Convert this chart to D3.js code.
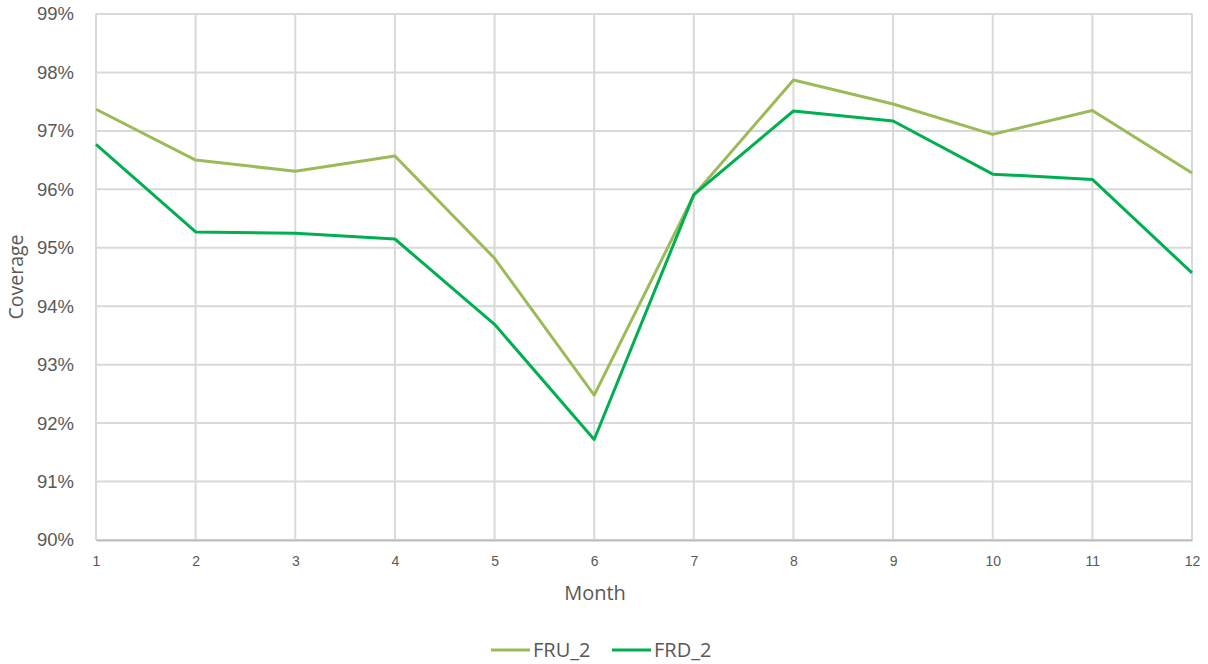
<!DOCTYPE html>
<html>
<head>
<meta charset="utf-8">
<script src="https://cdn.jsdelivr.net/npm/d3@7/dist/d3.min.js"></script>
<style>
  html, body { margin: 0; padding: 0; background: #fff; }
  svg { display: block; font-family: "Open Sans", "Liberation Sans", sans-serif; }
</style>
</head>
<body>
<svg id="chart" width="1208" height="664"></svg>
<script>
// Monthly coverage for two series
const months = [1, 2, 3, 4, 5, 6, 7, 8, 9, 10, 11, 12];
const fru2 = [97.37, 96.50, 96.31, 96.57, 94.82, 92.48, 95.90, 97.87, 97.46, 96.94, 97.35, 96.28];
const frd2 = [96.77, 95.27, 95.25, 95.15, 93.69, 91.72, 95.91, 97.34, 97.17, 96.26, 96.17, 94.57];
const yTicks = [90, 91, 92, 93, 94, 95, 96, 97, 98, 99];
const seriesNames = ["FRU_2", "FRD_2"];
const seriesColors = ["#9BBB59", "#00B050"];

const svg = d3.select("#chart");
const plotLeft = 96, plotRight = 1192, plotTop = 14, plotBottom = 540;

const x = d3.scaleLinear().domain([1, 12]).range([plotLeft, plotRight]);
const y = d3.scaleLinear().domain([90, 99]).range([plotBottom, plotTop]);

const textColor = "#595959";
const gridColor = "#D9D9D9";

// Horizontal gridlines
svg.append("g")
  .selectAll("line")
  .data(yTicks)
  .join("line")
  .attr("x1", plotLeft).attr("x2", plotRight)
  .attr("y1", d => y(d)).attr("y2", d => y(d))
  .attr("stroke", gridColor).attr("stroke-width", 2);

// Vertical gridlines
svg.append("g")
  .selectAll("line")
  .data(months)
  .join("line")
  .attr("x1", d => x(d)).attr("x2", d => x(d))
  .attr("y1", plotTop).attr("y2", plotBottom)
  .attr("stroke", gridColor).attr("stroke-width", 2);

// Y axis
const yAxis = d3.axisLeft(y).tickValues(yTicks).tickFormat(d => d + "%").tickSize(0).tickPadding(22);
const gy = svg.append("g").attr("transform", `translate(${plotLeft},0)`).call(yAxis);
gy.select(".domain").remove();
gy.selectAll("text").attr("fill", textColor).style("font-size", "18.5px");

// X axis
const xAxis = d3.axisBottom(x).tickValues(months).tickFormat(d3.format("d")).tickSize(0).tickPadding(16);
const gx = svg.append("g").attr("transform", `translate(0,${plotBottom})`).call(xAxis);
gx.select(".domain").attr("stroke", "#BFBFBF").attr("stroke-width", 2);
gx.selectAll("text").attr("fill", textColor).style("font-size", "14px");

// Axis titles
svg.append("text")
  .attr("x", 595).attr("y", 600)
  .attr("text-anchor", "middle")
  .attr("fill", textColor).style("font-size", "20px")
  .text("Month");

svg.append("text")
  .attr("transform", `translate(23,${(plotTop + plotBottom) / 2}) rotate(-90)`)
  .attr("text-anchor", "middle")
  .attr("fill", textColor).style("font-size", "19.5px")
  .text("Coverage");

// Series lines
const line = d3.line().x((d, i) => x(months[i])).y(d => y(d));
[fru2, frd2].forEach((vals, i) => {
  svg.append("path")
    .datum(vals)
    .attr("d", line)
    .attr("fill", "none")
    .attr("stroke", seriesColors[i])
    .attr("stroke-width", 3)
    .attr("stroke-linejoin", "round");
});

// Legend
const legendX = [491, 612];
legendX.forEach((lx, i) => {
  const g = svg.append("g").attr("transform", `translate(${lx},650)`);
  g.append("line").attr("x1", 0).attr("x2", 39).attr("y1", 0).attr("y2", 0)
    .attr("stroke", seriesColors[i]).attr("stroke-width", 3);
  g.append("text").attr("x", 42).attr("y", 7)
    .attr("fill", textColor).style("font-size", "20px")
    .text(seriesNames[i]);
});
</script>
</body>
</html>
